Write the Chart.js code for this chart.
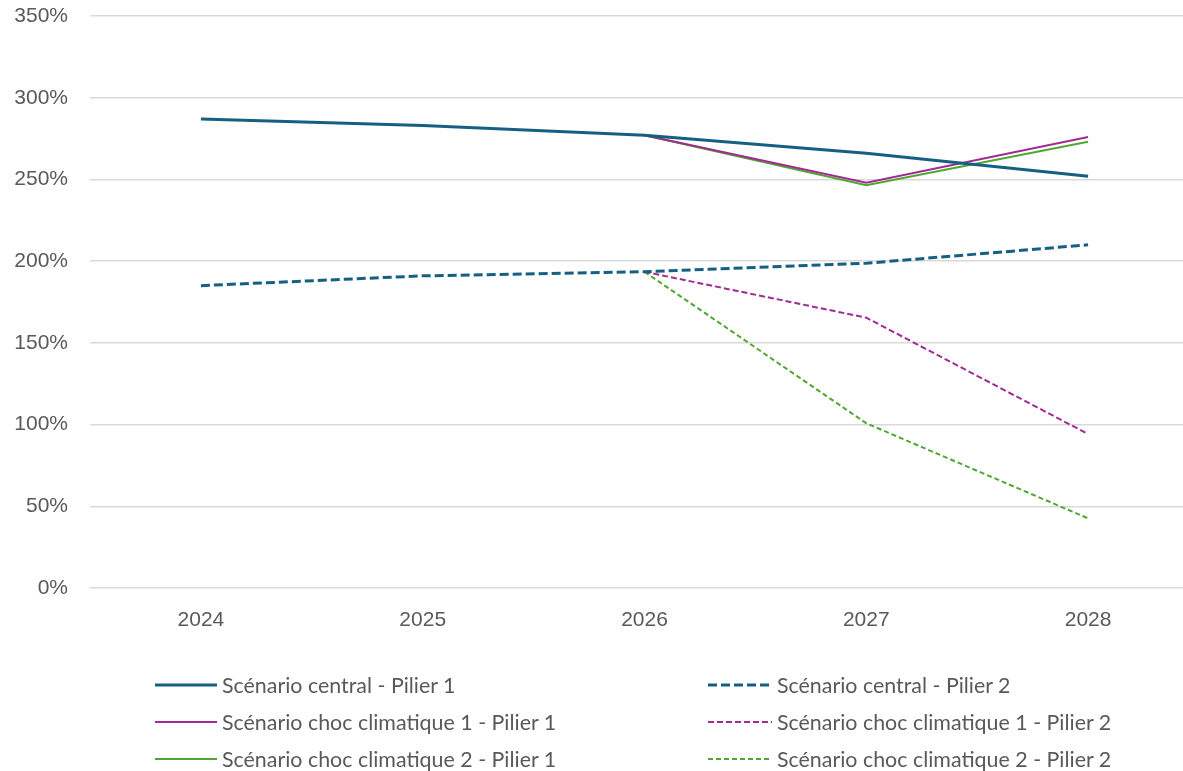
<!DOCTYPE html>
<html lang="fr">
<head>
<meta charset="utf-8">
<script src="https://cdn.jsdelivr.net/npm/chart.js@4/dist/chart.umd.min.js"></script>
<style>
  html, body { margin: 0; padding: 0; background: #fff; overflow: hidden; }
  #wrap { position: relative; width: 1183px; height: 771px; overflow: hidden; }
  #box { position: absolute; left: 0; top: 0; width: 1200px; height: 650px; }
  #legend { position: absolute; left: 0; top: 0; width: 1183px; height: 771px; pointer-events: none; }
  .item { position: absolute; display: flex; align-items: center; height: 30px; margin-top: -15px;
          font-family: Lato, "Open Sans", sans-serif; font-size: 21.4px; color: #595959; white-space: nowrap; }
  .item svg { display: block; margin-right: 5px; }
</style>
</head>
<body>
<div id="wrap">
  <div id="box"><canvas id="chart"></canvas></div>
  <div id="legend"></div>
</div>
<script>
// Années de projection
const years = ['2024', '2025', '2026', '2027', '2028'];

// Ratios de couverture (en %)
const centralP1  = [287, 283, 277, 266, 252];
const centralP2  = [185, 191, 193.5, 198.7, 210];
const choc1P1    = [null, null, 277, 248, 276];
const choc1P2    = [null, null, 193.5, 165.4, 94.2];
const choc2P1    = [null, null, 277, 246.5, 273];
const choc2P2    = [null, null, 193.5, 100.8, 42.6];

// Graduations de l'axe vertical
const yTicks = [0, 50, 100, 150, 200, 250, 300, 350];

const BLUE = '#156082', PURPLE = '#A02B93', GREEN = '#4EA72E';

const series = [
  { label: 'Scénario central - Pilier 1', data: centralP1, color: BLUE, width: 3, dash: [] },
  { label: 'Scénario central - Pilier 2', data: centralP2, color: BLUE, width: 3, dash: [9, 4] },
  { label: 'Scénario choc climatique 1 - Pilier 1', data: choc1P1, color: PURPLE, width: 2, dash: [] },
  { label: 'Scénario choc climatique 1 - Pilier 2', data: choc1P2, color: PURPLE, width: 2, dash: [6, 3] },
  { label: 'Scénario choc climatique 2 - Pilier 1', data: choc2P1, color: GREEN, width: 2, dash: [] },
  { label: 'Scénario choc climatique 2 - Pilier 2', data: choc2P2, color: GREEN, width: 2, dash: [5, 3] }
];

// Ordre de tracé : les séries de choc sous le scénario central
const drawOrder = [4, 5, 2, 3, 0, 1];

const datasets = series.map((s, i) => ({
  label: s.label,
  data: s.data,
  borderColor: s.color,
  backgroundColor: s.color,
  borderWidth: s.width,
  borderDash: s.dash,
  pointRadius: 0,
  tension: 0,
  spanGaps: false,
  order: 6 - drawOrder.indexOf(i)
}));

const AXIS_FONT = { family: '"Liberation Sans", Arial, sans-serif', size: 21 };

new Chart(document.getElementById('chart'), {
  type: 'line',
  data: { labels: years, datasets },
  options: {
    responsive: true,
    maintainAspectRatio: false,
    animation: false,
    layout: { padding: { top: 16, left: 0, right: 1, bottom: 0 } },
    plugins: { legend: { display: false }, tooltip: { enabled: false } },
    scales: {
      x: {
        offset: true,
        grid: { display: false, drawTicks: false },
        border: { display: false },
        ticks: { color: '#595959', font: AXIS_FONT, padding: 20, maxRotation: 0 },
        afterFit: (s) => { s.height = 62; s.paddingLeft = 0; s.paddingRight = 0; }
      },
      y: {
        min: 0,
        max: 350,
        afterBuildTicks: (s) => { s.ticks = yTicks.map(v => ({ value: v })); },
        grid: { color: '#d9d9d9', lineWidth: 1.5, drawTicks: false },
        border: { display: false },
        ticks: { color: '#595959', font: AXIS_FONT, padding: 22, callback: (v) => v + '%' },
        afterFit: (s) => { s.width = 90; s.paddingTop = 0; s.paddingBottom = 0; }
      }
    }
  }
});

// Légende sur deux colonnes
const legend = document.getElementById('legend');
const colX = [155, 708];
const rowY = [685, 722, 759];
series.forEach((s, i) => {
  const div = document.createElement('div');
  div.className = 'item';
  div.style.left = colX[i % 2] + 'px';
  div.style.top = rowY[Math.floor(i / 2)] + 'px';
  const ns = 'http://www.w3.org/2000/svg';
  const svg = document.createElementNS(ns, 'svg');
  const len = i % 2 === 0 ? 62 : 64;
  svg.setAttribute('width', len);
  svg.setAttribute('height', 6);
  const line = document.createElementNS(ns, 'line');
  line.setAttribute('x1', 0); line.setAttribute('y1', 3);
  line.setAttribute('x2', len); line.setAttribute('y2', 3);
  line.setAttribute('stroke', s.color);
  line.setAttribute('stroke-width', s.width);
  if (s.dash.length) line.setAttribute('stroke-dasharray', s.dash.join(' '));
  svg.appendChild(line);
  div.appendChild(svg);
  const span = document.createElement('span');
  span.textContent = s.label;
  div.appendChild(span);
  legend.appendChild(div);
});
</script>
</body>
</html>
